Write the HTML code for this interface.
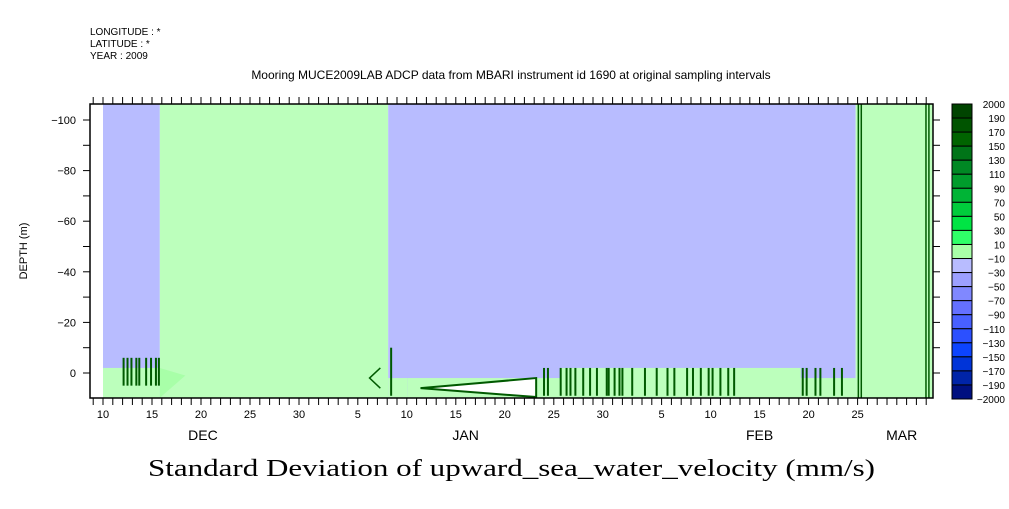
<!DOCTYPE html>
<html><head><meta charset="utf-8">
<style>
body{margin:0;background:#fff;width:1009px;height:504px;overflow:hidden;font-family:"Liberation Sans",sans-serif}
svg text{font-family:"Liberation Sans",sans-serif}
</style></head>
<body>
<svg id="chart" width="1009" height="504" viewBox="0 0 1009 504">
<g font-size="10">
<text x="90" y="35">LONGITUDE : *</text>
<text x="90" y="47">LATITUDE : *</text>
<text x="90" y="59">YEAR : 2009</text>
</g>
<text x="511" y="79" text-anchor="middle" font-size="12">Mooring MUCE2009LAB ADCP data from MBARI instrument id 1690 at original sampling intervals</text>
<g id="plot"></g>
<g id="axes"></g>
<g id="cbar"></g>
<text x="27" y="251" transform="rotate(-90 27 251)" text-anchor="middle" font-size="11">DEPTH (m)</text>
<text x="148" y="476" textLength="727" lengthAdjust="spacingAndGlyphs" font-size="24" style="font-family:'Liberation Serif',serif">Standard Deviation of upward_sea_water_velocity (mm/s)</text>
</svg>
<script>
// data: days since Dec 10, depths in m
const blockStarts=[0,5.8,29.1,76.8];
const blockEnds=[5.8,29.1,76.8,84.7];
const blockType=["split","green","split","green"];
const boundaryDays=[0,5.8,29.1,31.1,44.2,46.7,64.5,71.2,76.8];
const boundaryDepth=[-2,-2,2,2,2,-2,-2,2,2];
const spikeDays1=[2.0,2.4,2.8,3.3,3.6,4.3,4.8,5.3,5.6];
const spikeDays2=[44.9,45.3,46.6,47.2,47.6,48.1,48.9,49.6,50.3,51.3,51.5,52.1,52.6,52.9,53.9,55.2,56.4,57.5,58.2,59.5,60.1,60.9,61.7,62.1,62.9,63.7,64.3,71.3,71.7,72.6,73.1,74.5,75.3];
const lineDays=[77.0,77.3,83.9,84.2];
const cbLabels=["2000","190","170","150","130","110","90","70","50","30","10","\u221210","\u221230","\u221250","\u221270","\u221290","\u2212110","\u2212130","\u2212150","\u2212170","\u2212190","\u22122000"];
const yTicks=[-100,-80,-60,-40,-20,0];
const dayTickLabels=[[0,"10"],[5,"15"],[10,"20"],[15,"25"],[20,"30"],[26,"5"],[31,"10"],[36,"15"],[41,"20"],[46,"25"],[51,"30"],[57,"5"],[62,"10"],[67,"15"],[72,"20"],[77,"25"]];
const monthLabels=[[10.2,"DEC"],[37,"JAN"],[67,"FEB"],[81.5,"MAR"]];

const NS="http://www.w3.org/2000/svg";
const X0=90,X1=933,Y0=104,Y1=398;
const xs=d=>103+d*9.8;
const ys=m=>373+m*2.53;
const BLUE="#b8bcff",GREEN="#bcffbc",DARK="#005a00";
function mk(p,t,a){const e=document.createElementNS(NS,t);for(const k in a)e.setAttribute(k,a[k]);p.appendChild(e);return e;}
const plot=document.getElementById('plot');
const ax=document.getElementById('axes');
const cb=document.getElementById('cbar');
blockStarts.forEach((s,i)=>{
  const x=xs(s),w=xs(blockEnds[i])-x;
  if(blockType[i]==="split"){
    const b=mk(plot,'rect',{x:x,y:Y0,width:w,height:Y1-Y0,fill:BLUE});
    
    
  }else{
    const g=mk(plot,'rect',{x:x,y:Y0,width:w,height:Y1-Y0,fill:GREEN});
    
    
  }
});
for(let i=0;i<boundaryDays.length-1;i++){
  const s=boundaryDays[i],e=boundaryDays[i+1];
  if(s>=5.8&&e<=29.1)continue;
  const r=mk(plot,'rect',{x:xs(s),y:ys(boundaryDepth[i]),width:xs(e)-xs(s),height:Y1-ys(boundaryDepth[i]),fill:GREEN});
  
  
}
const wedge=mk(plot,'polygon',{points:`${xs(5.8)},${ys(-2)} ${xs(8.4)},${ys(1)} ${xs(5.8)},${ys(9.8)}`,fill:"#a8ffa8"});


spikeDays1.forEach(d=>{
  const l=mk(plot,'rect',{x:xs(d),y:ys(-6),width:2,height:ys(5)-ys(-6),fill:DARK});
  
  
});
spikeDays2.forEach(d=>{
  const l=mk(plot,'rect',{x:xs(d),y:ys(-2),width:2,height:ys(9)-ys(-2),fill:DARK});
  
  
});
lineDays.forEach(d=>{
  const l=mk(plot,'rect',{x:xs(d),y:Y0,width:1.5,height:Y1-Y0,fill:DARK});
  
  
});
const tri=mk(plot,'polygon',{points:`${xs(32.4)},${ys(6)} ${xs(44.2)},${ys(2)} ${xs(44.2)},${ys(9.5)}`,fill:"#fff",stroke:DARK,"stroke-width":2});


const tri2=mk(plot,'polyline',{points:`${xs(28.3)},${ys(-2)} ${xs(27.2)},${ys(2)} ${xs(28.3)},${ys(6)}`,fill:"none",stroke:DARK,"stroke-width":1.5});


const sp=mk(plot,'rect',{x:xs(29.3),y:ys(-10),width:2,height:ys(9)-ys(-10),fill:DARK});


// axes frame
const fr=mk(ax,'rect',{x:X0,y:Y0,width:X1-X0,height:Y1-Y0,fill:"none",stroke:"#000","stroke-width":1.5});


for(let d=-1;d<=84;d++){
  const x=xs(d); if(x<X0||x>X1)continue;
  mk(ax,'line',{x1:x,x2:x,y1:Y0,y2:Y0-7,stroke:"#000"});
  mk(ax,'line',{x1:x,x2:x,y1:Y1,y2:Y1+7,stroke:"#000"});
}
dayTickLabels.forEach(([d,t])=>{
  const e=mk(ax,'text',{x:xs(d),y:418,"text-anchor":"middle","font-size":"11"});e.textContent=t;
  
  
});
monthLabels.forEach(([d,t])=>{
  const e=mk(ax,'text',{x:xs(d),y:440,"text-anchor":"middle","font-size":"14"});e.textContent=t;
  
  
});
for(let m=-100;m<=0;m+=10){
  mk(ax,'line',{x1:X0,x2:X0-7,y1:ys(m),y2:ys(m),stroke:"#000"});
  mk(ax,'line',{x1:X1,x2:X1+7,y1:ys(m),y2:ys(m),stroke:"#000"});
}
yTicks.forEach(m=>{
  const e=mk(ax,'text',{x:76,y:ys(m)+4,"text-anchor":"end","font-size":"11"});e.textContent=(m<0?"\u2212"+(-m):m);
  
  
});
// colorbar
const cols=["#004400","#005400","#006400","#007418","#008824","#009c2c","#00b436","#00cc3c","#00e444","#00ff48","#30ff68","#70ff90","#a0ffa8","#b8bcff","#a8acff","#9898ff","#8890ff","#7080ff","#5870ff","#3c5cff","#2048ff"];
const cols2=["#0040ff","#0034d8","#0028b0","#001c90","#001078"];
const allCols=cols.slice(0,10).concat(["#b0ffb0"]).concat(["#b8bcff","#a0a4ff","#8c90ff","#7078ff","#5c64ff","#4050ff","#2848ff","#0c44ff","#0034d8","#0024a8","#001080"]);
const nb=21,bh=(399-104)/nb;
for(let i=0;i<nb;i++){
  const c=[...cols.slice(0,9),"#30ff68","#a8ffa8","#b8bcff","#9ca0ff","#8088ff","#6470ff","#4860ff","#2c50ff","#0c44ff","#0034d8","#0024a8","#001080"][i];
  const r=mk(cb,'rect',{x:952,y:104+i*bh,width:20,height:bh,fill:c,stroke:"#000","stroke-width":1});
  
  
}
cbLabels.forEach((t,i)=>{
  const e=mk(cb,'text',{x:1005,y:104+i*bh+4,"text-anchor":"end","font-size":"10"});e.textContent=t;
  
  
});
</script>
</body></html>
